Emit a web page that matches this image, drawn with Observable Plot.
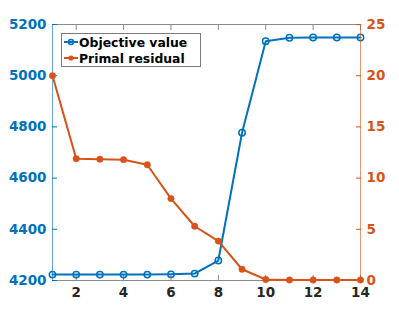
<!DOCTYPE html>
<html>
<head>
<meta charset="utf-8">
<script src="https://cdn.jsdelivr.net/npm/d3@7"></script>
<script src="https://cdn.jsdelivr.net/npm/@observablehq/plot@0.6"></script>
<style>
  body { margin: 0; background: #fff; }
  #wrap { position: relative; width: 399px; height: 314px; font-family: "DejaVu Sans", sans-serif; }
  #wrap svg { position: absolute; left: 0; top: 0; overflow: visible; }
  #legend { position: absolute; left: 61px; top: 33px; width: 138px; height: 32px; border: 1px solid #7a7a7a; background: #fff;
    font-weight: bold; font-size: 12.4px; color: #000; }
  #legend .item { position: absolute; left: 0; height: 16px; display: flex; align-items: center; white-space: nowrap; }
</style>
</head>
<body>
<div id="wrap"></div>
<script>
const iterations = [1, 2, 3, 4, 5, 6, 7, 8, 9, 10, 11, 12, 13, 14];
const objective = [4223, 4223, 4223, 4223, 4223, 4224, 4227, 4278, 4777, 5135, 5148, 5149, 5149, 5149];
const residual = [20.0, 11.9, 11.85, 11.8, 11.3, 8.0, 5.3, 3.85, 1.1, 0.1, 0.05, 0.05, 0.05, 0.05];
const xTicks = [2, 4, 6, 8, 10, 12, 14];
const leftTicks = [4200, 4400, 4600, 4800, 5000, 5200];
const rightTicks = [0, 5, 10, 15, 20, 25];
const seriesNames = ["Objective value", "Primal residual"];

const blue = "#0072BD", orange = "#D95319", dark = "#262626", boxGray = "#8a8a8a";
const objData = iterations.map((x, i) => ({x, y: objective[i]}));
const resData = iterations.map((x, i) => ({x, y: residual[i]}));
const fmt = d => String(d);

const common = {
  width: 399, height: 314,
  marginLeft: 52, marginRight: 39, marginTop: 24, marginBottom: 34,
  x: {domain: [1, 14], label: null},
  style: {fontFamily: "DejaVu Sans, sans-serif", fontWeight: "bold", fontSize: "13.5px", background: "transparent", overflow: "visible"}
};

const left = Plot.plot({
  ...common,
  y: {domain: [4200, 5200], label: null},
  marks: [
    Plot.ruleY([4200, 5200], {stroke: boxGray, strokeWidth: 1}),
    Plot.axisX({anchor: "bottom", ticks: xTicks, tickSize: -5, tickPadding: 12, tickFormat: fmt, label: null, stroke: boxGray, fill: dark, color: dark}),
    Plot.axisX({anchor: "top", ticks: xTicks, tickSize: -5, tickFormat: () => "", label: null, stroke: boxGray, color: boxGray}),
    Plot.axisY({anchor: "left", ticks: leftTicks, tickSize: -5, tickPadding: 11, tickFormat: fmt, label: null, color: blue}),
    Plot.ruleX([1], {stroke: blue, strokeOpacity: 0.6, strokeWidth: 1}),
    Plot.line(objData, {x: "x", y: "y", stroke: blue, strokeWidth: 2}),
    Plot.dot(objData, {x: "x", y: "y", r: 3.2, stroke: blue, strokeWidth: 1.5, fill: "none"})
  ]
});

const right = Plot.plot({
  ...common,
  y: {domain: [0, 25], label: null},
  marks: [
    Plot.axisX({ticks: [], tickFormat: () => "", tickSize: 0, label: null}),
    Plot.axisY({anchor: "right", ticks: rightTicks, tickSize: -5, tickPadding: 11, tickFormat: fmt, label: null, color: orange}),
    Plot.ruleX([14], {stroke: orange, strokeOpacity: 0.6, strokeWidth: 1}),
    Plot.line(resData, {x: "x", y: "y", stroke: orange, strokeWidth: 2}),
    Plot.dot(resData, {x: "x", y: "y", r: 3.2, fill: orange, stroke: orange, strokeWidth: 0.5})
  ]
});

const wrap = document.getElementById("wrap");
wrap.appendChild(left);
wrap.appendChild(right);

// legend
const legend = document.createElement("div");
legend.id = "legend";
seriesNames.forEach((name, i) => {
  const item = document.createElement("div");
  item.className = "item";
  item.style.top = (i * 16) + "px";
  const sw = i === 0
    ? `<svg width="18" height="16" style="position:static"><line x1="2" x2="16" y1="8" y2="8" stroke="${blue}" stroke-width="2"/><circle cx="9" cy="8" r="2.5" fill="none" stroke="${blue}" stroke-width="1.5"/></svg>`
    : `<svg width="18" height="16" style="position:static"><line x1="2" x2="16" y1="8" y2="8" stroke="${orange}" stroke-width="2"/><circle cx="9" cy="8" r="2.6" fill="${orange}"/></svg>`;
  item.innerHTML = sw + `<span style="margin-left:-1px">${name}</span>`;
  legend.appendChild(item);
});
wrap.appendChild(legend);
</script>
</body>
</html>
